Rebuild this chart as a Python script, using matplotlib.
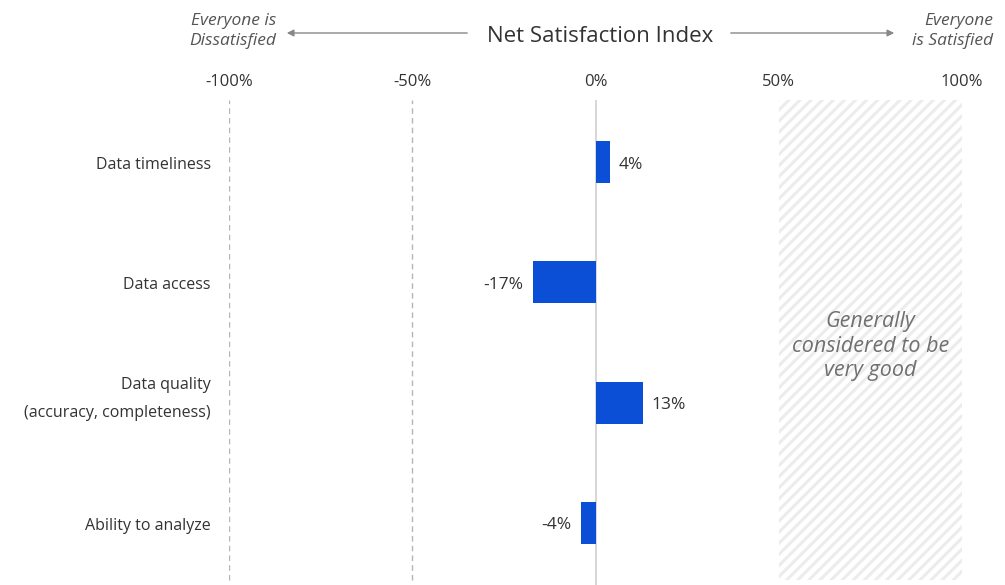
import matplotlib.pyplot as plt
from matplotlib.transforms import blended_transform_factory

categories = ["Data timeliness", "Data access", "Data quality\n(accuracy, completeness)", "Ability to analyze"]
values = [4, -17, 13, -4]
tick_vals = [-100, -50, 0, 50, 100]
tick_labels = ["-100%", "-50%", "0%", "50%", "100%"]

plt.rcParams["font.family"] = ["Open Sans", "DejaVu Sans"]
plt.rcParams["hatch.linewidth"] = 2.2
plt.rcParams["hatch.color"] = "#ececec"

fig = plt.figure(figsize=(10.05, 5.85), dpi=100)
ax = fig.add_axes([229 / 1005, 0.0, (962 - 229) / 1005, 485 / 585])

ypos = list(range(len(categories)))
ax.set_xlim(-100, 100)
ax.set_ylim(3.52, -0.52)

# hatched "very good" zone
ax.axvspan(50, 100, ymin=0.01, ymax=1, facecolor="white", edgecolor="#ececec", hatch="///", linewidth=0)
ax.text(75, 1.53, "Generally\nconsidered to be\nvery good", ha="center", va="center",
        style="italic", fontsize=15.5, color="#707070", linespacing=1.22)

for x in (-100, -50):
    ax.axvline(x, ymin=0.01, ymax=1, color="#b5b5b5", linestyle=(0, (4, 3)), linewidth=1)
ax.axvline(0, color="#cfcfcf", linewidth=1.2)

ax.barh(ypos, values, height=0.35, color="#0b4fd6", zorder=3)
for y, v in zip(ypos, values):
    if v >= 0:
        ax.text(v + 2.3, y + 0.02, f"{v}%", ha="left", va="center", fontsize=12.5, color="#333333")
    else:
        ax.text(v - 2.6, y + 0.02, f"{v}%", ha="right", va="center", fontsize=12.5, color="#333333")

ax.set_xticks(tick_vals)
ax.set_xticklabels(tick_labels, fontsize=12, color="#333333")
ax.xaxis.tick_top()
ax.tick_params(axis="x", length=0, pad=7)
ax.set_yticks([])
for s in ax.spines.values():
    s.set_visible(False)

# category labels (multi-line one sits a bit above its bar)
trans = blended_transform_factory(ax.transAxes, ax.transData)
for y, lab in zip(ypos, categories):
    yy = y - 0.03 if "\n" in lab else y + 0.025
    ax.text(-0.025, yy, lab, transform=trans, ha="right", va="center",
            fontsize=11.5, color="#333333", linespacing=2.05)

# header with arrows
fig.text(600 / 1005, 1 - 36 / 585, "Net Satisfaction Index", ha="center", va="center", fontsize=16, color="#333333")
fig.text(276 / 1005, 1 - 31 / 585, "Everyone is\nDissatisfied", ha="right", va="center",
         style="italic", fontsize=12.5, color="#555555", linespacing=1.4)
fig.text(993 / 1005, 1 - 31 / 585, "Everyone\nis Satisfied", ha="right", va="center",
         style="italic", fontsize=12.5, color="#555555", linespacing=1.4, multialignment="right")
fig.add_artist(plt.Annotation("", xy=(284 / 1005, 1 - 33 / 585), xytext=(470 / 1005, 1 - 33 / 585),
                              xycoords="figure fraction",
                              arrowprops=dict(arrowstyle="-|>", color="#888888", lw=1, mutation_scale=10)))
fig.add_artist(plt.Annotation("", xy=(897 / 1005, 1 - 33 / 585), xytext=(728 / 1005, 1 - 33 / 585),
                              xycoords="figure fraction",
                              arrowprops=dict(arrowstyle="-|>", color="#888888", lw=1, mutation_scale=10)))

fig.savefig("out.png", dpi=100)
